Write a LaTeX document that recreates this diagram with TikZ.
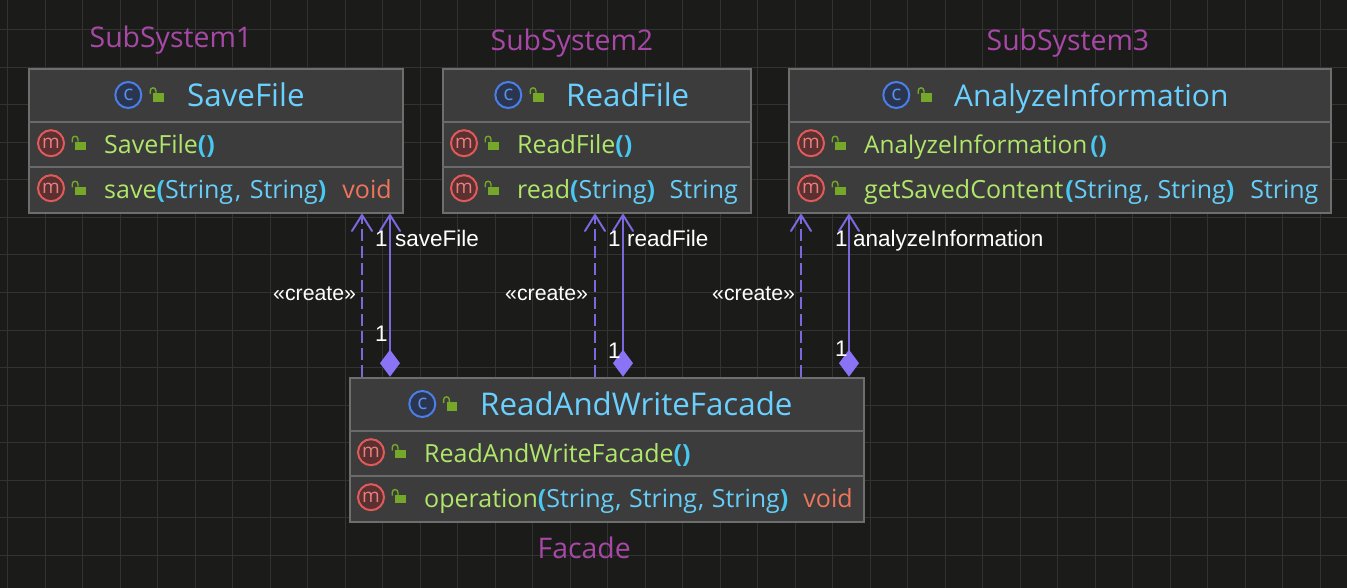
\documentclass[tikz,border=0pt]{standalone}
\usepackage{fontspec}
\setmainfont{Open Sans}
\newfontfamily\lblfont{Liberation Sans}
\usetikzlibrary{arrows.meta}
\definecolor{bgc}{HTML}{1B1B1A}
\definecolor{gridc}{HTML}{333333}
\definecolor{boxc}{HTML}{3C3C3C}
\definecolor{edgec}{HTML}{6E6E6E}
\definecolor{sepc}{HTML}{6A6A6A}
\definecolor{titlec}{HTML}{6AD0FF}
\definecolor{methc}{HTML}{B0E66A}
\definecolor{typec}{HTML}{66CEF8}
\definecolor{parenc}{HTML}{48C8F0}
\definecolor{voidc}{HTML}{F0745C}
\definecolor{purp}{HTML}{A848A6}
\definecolor{linec}{HTML}{7B68DC}
\definecolor{diac}{HTML}{8B73F6}
\definecolor{lockc}{HTML}{75A828}
\definecolor{cstroke}{HTML}{4A7EE8}
\definecolor{cfill}{HTML}{2A3550}
\definecolor{cletter}{HTML}{5B8FE8}
\definecolor{mstroke}{HTML}{E05A5A}
\definecolor{mfill}{HTML}{5A3030}
\definecolor{mletter}{HTML}{E88080}
\tikzset{
  x=1pt,y=-1pt,
  umlbox/.style={draw=edgec,line width=2pt,fill=boxc,inner sep=0pt,minimum width=#1,anchor=north west,minimum height=144.3pt},
  sepline/.style={draw=sepc,line width=2pt},
  titletext/.style={anchor=base west,inner sep=0pt,text=titlec,font=\fontsize{31.3}{31.3}\selectfont},
  rowtext/.style={anchor=base west,inner sep=0pt,text=methc,font=\fontsize{25}{25}\selectfont},
  caption/.style={anchor=base west,inner sep=0pt,text=purp,font=\fontsize{28.4}{28.4}\selectfont},
  lbl/.style={anchor=base west,inner sep=0pt,text=white,font=\lblfont\fontsize{22.5}{22.5}\selectfont},
  crt/.style={lbl,font=\lblfont\fontsize{21.3}{21.3}\selectfont},
  classicon/.style={circle,draw=cstroke,line width=2pt,fill=cfill,minimum size=26pt,inner sep=0pt,text=cletter,font=\fontsize{21}{21}\selectfont},
  methicon/.style={circle,draw=mstroke,line width=2pt,fill=mfill,minimum size=26pt,inner sep=0pt,text=mletter,font=\fontsize{19}{19}\selectfont},
  assoc/.style={draw=linec,line width=2pt,{Diamond[length=27pt,width=20pt,fill=diac,color=diac,sep=0pt]}-{Straight Barb[length=16pt,width=20pt,color=linec,line width=2pt,round]}},
  dep/.style={draw=linec,line width=2pt,dash pattern=on 12pt off 5pt,-{Straight Barb[length=16pt,width=20pt,color=linec,line width=2pt,round]}},
}
\newcommand{\lockat}[2]{%
  \fill[lockc] (#1+4.3,#2+1.3) rectangle (#1+15,#2+9.7);
  \draw[lockc,line width=1.4pt] (#1+1.2,#2+2) -- (#1+1.2,#2-1) .. controls (#1+1.2,#2-5.2) and (#1+7,#2-5.2) .. (#1+7,#2-1) -- (#1+7,#2+1.3);
}
\newcommand{\bold}[1]{{\bfseries\textcolor{parenc}{#1}}}
\newcommand{\ty}[1]{\textcolor{typec}{#1}}
\newcommand{\vo}[1]{\textcolor{voidc}{#1}}
\begin{document}
\begin{tikzpicture}
\useasboundingbox (0,0) rectangle (1347,588);
\fill[bgc] (0,0) rectangle (1347,588);
\foreach \k in {0,...,35} \draw[gridc,line width=1pt] (7.5+37.5*\k,0) -- (7.5+37.5*\k,588);
\foreach \k in {0,...,15} \draw[gridc,line width=1pt] (0,30+37.5*\k) -- (1347,30+37.5*\k);

% captions
\node[caption] (c1) at (89.5,48) {SubSystem1};
\node[caption] (c2) at (490.5,51) {SubSystem2};
\node[caption] (c3) at (986.5,51) {SubSystem3};
\node[caption] (c4) at (537.5,558) {Facade};

% boxes
\node[umlbox=374pt] (save) at (28.3,67.7) {};
\node[umlbox=308pt] (read) at (441.5,67.7) {};
\node[umlbox=542pt] (ana) at (788,67.7) {};
\node[umlbox=514pt] (fac) at (348.5,376.7) {};
\foreach \b in {save,read,ana}{
  \draw[sepline] (\b.west |- 0,122) -- (\b.east |- 0,122);
  \draw[sepline] (\b.west |- 0,167) -- (\b.east |- 0,167);
}
\draw[sepline] (fac.west |- 0,431) -- (fac.east |- 0,431);
\draw[sepline] (fac.west |- 0,476) -- (fac.east |- 0,476);

% SaveFile
\node[classicon] (i1) at (128.3,95) {c};
\lockat{149}{92}
\node[titletext] (t1) at (187,106.4) {SaveFile};
\node[methicon] (m1a) at (51,143.2) {m};
\lockat{71}{140.4}
\node[rowtext] (r1a) at (104,153.4) {SaveFile\bold{()}};
\node[methicon] (m1b) at (51,188.2) {m};
\lockat{71}{185.4}
\node[rowtext] (r1b) at (104,198.4) {save\bold{(}\ty{String\hspace{2pt},\hspace{2pt} String}\bold{)}\hspace{16pt}\vo{void}};

% ReadFile
\node[classicon] (i2) at (508.3,95) {c};
\lockat{529}{92}
\node[titletext] (t2) at (566,106.4) {ReadFile};
\node[methicon] (m2a) at (464,143.2) {m};
\lockat{484}{140.4}
\node[rowtext] (r2a) at (517,153.4) {ReadFile\bold{()}};
\node[methicon] (m2b) at (464,188.2) {m};
\lockat{484}{185.4}
\node[rowtext] (r2b) at (517,198.4) {read\bold{(}\ty{String}\bold{)}\hspace{14.5pt}\ty{String}};

% AnalyzeInformation
\node[classicon] (i3) at (896.3,95) {c};
\lockat{917}{92}
\node[titletext,font=\fontsize{30}{30}\selectfont] (t3) at (954,106.4) {AnalyzeInformation};
\node[methicon] (m3a) at (811,143.2) {m};
\lockat{831}{140.4}
\node[rowtext,font=\fontsize{24.4}{24.4}\selectfont] (r3a) at (864,153.4) {AnalyzeInformation\hspace{3pt}\bold{()}};
\node[methicon] (m3b) at (811,188.2) {m};
\lockat{831}{185.4}
\node[rowtext] (r3b) at (864,198.4) {getSavedContent\hspace{2pt}\bold{(}\ty{String\hspace{1.5pt},\hspace{1.5pt} String}\bold{)}\hspace{16pt}\ty{String}};

% Facade
\node[classicon] (i4) at (422.3,404) {c};
\lockat{442.4}{401}
\node[titletext] (t4) at (480,415.4) {ReadAndWriteFacade};
\node[methicon] (m4a) at (371,452.2) {m};
\lockat{391}{448.7}
\node[rowtext] (r4a) at (424,462.4) {ReadAndWriteFacade\bold{()}};
\node[methicon] (m4b) at (371,497.2) {m};
\lockat{391}{493.7}
\node[rowtext] (r4b) at (424,507.4) {operation\bold{(}\ty{String\hspace{1pt},\hspace{1pt} String\hspace{1pt},\hspace{1pt} String}\bold{)}\hspace{15pt}\vo{void}};

% connector columns
\coordinate (d1) at (362,300); \coordinate (s1) at (390,300);
\coordinate (d2) at (595,300); \coordinate (s2) at (623,300);
\coordinate (d3) at (801,300); \coordinate (s3) at (849,300);
\draw[dep] (fac.north -| d1) -- (save.south -| d1);
\draw[assoc] (fac.north -| s1) -- (save.south -| s1);
\draw[dep] (fac.north -| d2) -- (read.south -| d2);
\draw[assoc] (fac.north -| s2) -- (read.south -| s2);
\draw[dep] (fac.north -| d3) -- (ana.south -| d3);
\draw[assoc] (fac.north -| s3) -- (ana.south -| s3);

% labels
\node[lbl] (l1a) at (375,247) {1};
\node[lbl] (l1b) at (395,247) {saveFile};
\node[crt] (l1c) at (273,300.5) {«create»};
\node[lbl] (l1d) at (375,341.5) {1};
\node[lbl] (l2a) at (608,247) {1};
\node[lbl] (l2b) at (627,247) {readFile};
\node[crt] (l2c) at (505,300.5) {«create»};
\node[lbl] (l2d) at (608,358) {1};
\node[lbl] (l3a) at (835,247) {1};
\node[lbl] (l3b) at (853,247) {analyzeInformation};
\node[crt] (l3c) at (712,300.5) {«create»};
\node[lbl] (l3d) at (835,356) {1};
\end{tikzpicture}
\end{document}
